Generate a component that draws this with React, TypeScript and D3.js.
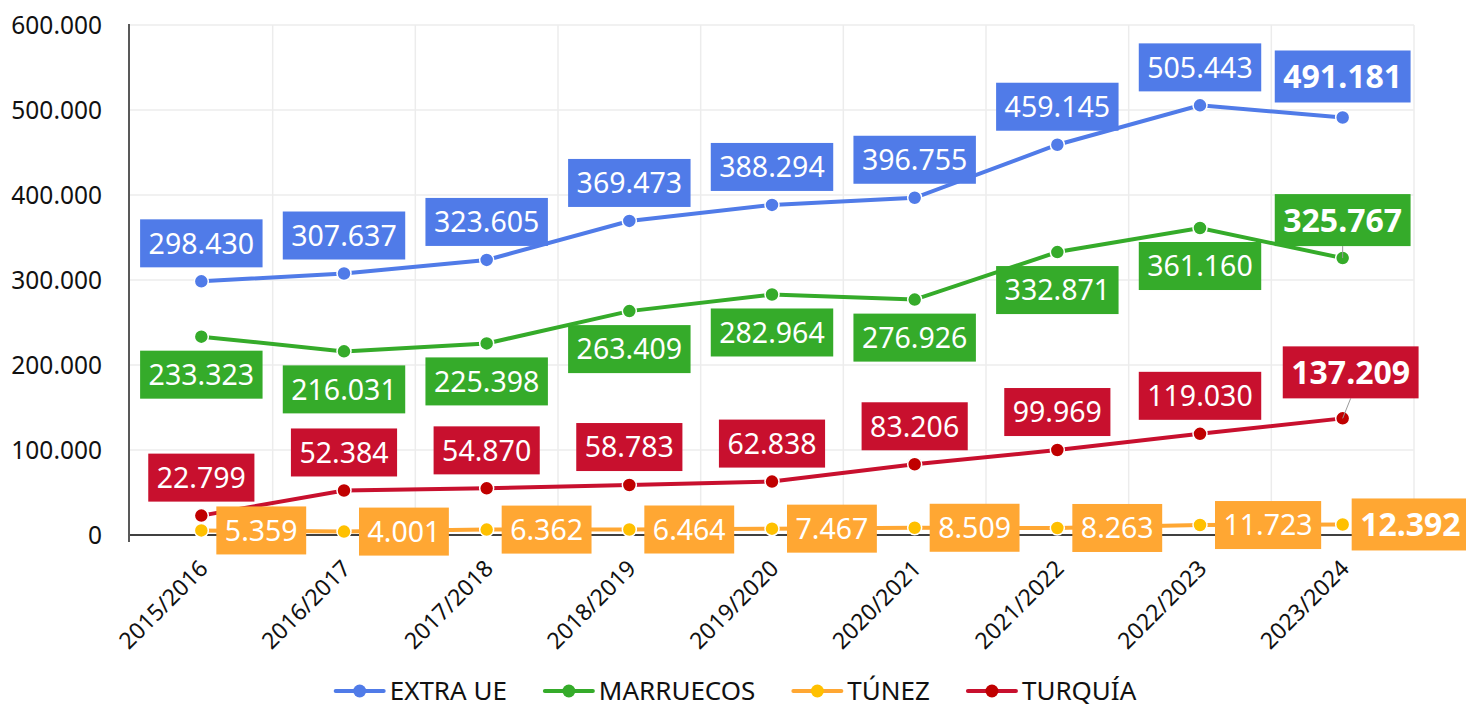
import React, { useRef, useEffect } from "react";
import * as d3 from "d3";

const seasons = [
  "2015/2016",
  "2016/2017",
  "2017/2018",
  "2018/2019",
  "2019/2020",
  "2020/2021",
  "2021/2022",
  "2022/2023",
  "2023/2024",
];

const extraUe = [298430, 307637, 323605, 369473, 388294, 396755, 459145, 505443, 491181];
const marruecos = [233323, 216031, 225398, 263409, 282964, 276926, 332871, 361160, 325767];
const tunez = [5359, 4001, 6362, 6464, 7467, 8509, 8263, 11723, 12392];
const turquia = [22799, 52384, 54870, 58783, 62838, 83206, 99969, 119030, 137209];

const yTicks = [0, 100000, 200000, 300000, 400000, 500000, 600000];

interface ISeries {
  name: string;
  values: number[];
  line: string;
  marker: string;
  box: string;
  place: "above" | "below" | "right";
  // offsets for the last (bold) label
  lastDx: number;
  lastDy: number;
  leader: boolean;
}

const series: ISeries[] = [
  { name: "EXTRA UE", values: extraUe, line: "#507BE8", marker: "#507BE8", box: "#507BE8", place: "above", lastDx: 0, lastDy: -41, leader: false },
  { name: "MARRUECOS", values: marruecos, line: "#35AB2A", marker: "#35AB2A", box: "#35AB2A", place: "below", lastDx: 0, lastDy: -38, leader: true },
  { name: "TÚNEZ", values: tunez, line: "#FFA733", marker: "#FFC000", box: "#FFA733", place: "right", lastDx: 9, lastDy: 0, leader: false },
  { name: "TURQUÍA", values: turquia, line: "#C8102E", marker: "#C00000", box: "#C8102E", place: "above", lastDx: 8, lastDy: -46, leader: true },
];

const FONT = "'Noto Sans', 'Open Sans', sans-serif";

const App: React.FC = () => {
  const ref = useRef<SVGSVGElement>(null);
  const width = 1466;
  const height = 708;
  const margin = { top: 25, right: 52, bottom: 173, left: 130 };

  useEffect(() => {
    document.body.style.margin = "0";
    const svg = d3.select(ref.current);
    svg.selectAll("*").remove();

    const left = margin.left;
    const right = width - margin.right;
    const top = margin.top;
    const bottom = height - margin.bottom;

    const fmt = d3.formatLocale({
      decimal: ",",
      thousands: ".",
      grouping: [3],
      currency: ["", "€"],
    }).format(",d");

    const xScale = d3.scaleBand<string>().domain(seasons).range([left, right]);
    const bw = xScale.bandwidth();
    const cx = (s: string) => (xScale(s) || 0) + bw / 2;
    const yScale = d3.scaleLinear().domain([0, 600000]).range([bottom, top]);

    // grid
    const grid = svg.append("g");
    yTicks.forEach((t) => {
      if (t === 0) return;
      grid.append("line")
        .attr("x1", left).attr("x2", right)
        .attr("y1", yScale(t)).attr("y2", yScale(t))
        .attr("stroke", "#ececec").attr("stroke-width", 1.5);
    });
    seasons.forEach((s) => {
      const x = (xScale(s) || 0) + bw;
      grid.append("line")
        .attr("x1", x).attr("x2", x)
        .attr("y1", top).attr("y2", bottom)
        .attr("stroke", "#ececec").attr("stroke-width", 1.5);
    });

    // axes
    svg.append("line")
      .attr("x1", left).attr("x2", right)
      .attr("y1", bottom).attr("y2", bottom)
      .attr("stroke", "#000").attr("stroke-width", 1.5);
    svg.append("line")
      .attr("x1", left - 1).attr("x2", left - 1)
      .attr("y1", top - 1).attr("y2", bottom + 7)
      .attr("stroke", "#222").attr("stroke-width", 1.5);

    svg.append("g")
      .selectAll("text")
      .data(yTicks)
      .join("text")
      .attr("x", 102)
      .attr("y", (d) => yScale(d))
      .attr("dy", "0.36em")
      .attr("text-anchor", "end")
      .attr("font-family", FONT)
      .attr("font-size", 24.5)
      .attr("fill", "#111")
      .text((d) => fmt(d));

    svg.append("g")
      .selectAll("text")
      .data(seasons)
      .join("text")
      .attr("transform", (d) => `translate(${cx(d) + 8}, 570) rotate(-45)`)
      .attr("text-anchor", "end")
      .attr("font-family", FONT)
      .attr("font-size", 23)
      .attr("fill", "#111")
      .text((d) => d);

    // lines + markers
    const lineGen = d3.line<number>()
      .x((_, i) => cx(seasons[i]))
      .y((d) => yScale(d));

    series.forEach((s) => {
      svg.append("path")
        .attr("d", lineGen(s.values) || "")
        .attr("fill", "none")
        .attr("stroke", s.line)
        .attr("stroke-width", 4);
    });
    series.forEach((s) => {
      svg.append("g")
        .selectAll("circle")
        .data(s.values)
        .join("circle")
        .attr("cx", (_, i) => cx(seasons[i]))
        .attr("cy", (d) => yScale(d))
        .attr("r", 7)
        .attr("fill", s.marker)
        .attr("stroke", "#fff")
        .attr("stroke-width", 1.5);
    });

    // data labels
    const labels = svg.append("g");
    series.forEach((s) => {
      s.values.forEach((v, i) => {
        const px = cx(seasons[i]);
        const py = yScale(v);
        const last = i === s.values.length - 1;
        const fs = last ? 32 : 28.5;
        const bh = last ? 52 : 48;
        const g = labels.append("g");
        const rect = g.append("rect");
        const txt = g.append("text")
          .attr("font-family", FONT)
          .attr("font-size", fs)
          .attr("font-weight", last ? 700 : 400)
          .attr("fill", "#fff")
          .attr("text-anchor", "middle")
          .attr("dy", "0.36em")
          .text(fmt(v));
        const tw = (txt.node() as SVGTextElement).getComputedTextLength();
        const bwid = tw + 17;
        let bx: number;
        let by: number;
        if (s.place === "right") {
          bx = px + (last ? s.lastDx : 15) + bwid / 2;
          by = py;
        } else if (last) {
          bx = px + s.lastDx;
          by = py + s.lastDy;
        } else {
          bx = px;
          by = s.place === "above" ? py - 38 : py + 38;
        }
        if (last && s.leader) {
          labels.insert("line", ":first-child")
            .attr("x1", bx).attr("y1", by + bh / 2)
            .attr("x2", px).attr("y2", py)
            .attr("stroke", "#999").attr("stroke-width", 1);
        }
        rect
          .attr("x", bx - bwid / 2)
          .attr("y", by - bh / 2)
          .attr("width", bwid)
          .attr("height", bh)
          .attr("fill", s.box);
        txt.attr("x", bx).attr("y", by);
      });
    });

    // legend
    const legend = svg.append("g");
    const items = series.map((s) => {
      const g = legend.append("g");
      g.append("line")
        .attr("x1", 0).attr("x2", 48)
        .attr("y1", 691).attr("y2", 691)
        .attr("stroke", s.line).attr("stroke-width", 4)
        .attr("stroke-linecap", "round");
      g.append("circle")
        .attr("cx", 24).attr("cy", 691).attr("r", 6.5)
        .attr("fill", s.marker);
      const t = g.append("text")
        .attr("x", 54).attr("y", 699.5)
        .attr("font-family", FONT)
        .attr("font-size", 26)
        .attr("fill", "#111")
        .text(s.name);
      const w = 54 + (t.node() as SVGTextElement).getComputedTextLength();
      return { g, w };
    });
    const gap = 38;
    const total = d3.sum(items, (d) => d.w) + gap * (items.length - 1);
    let xPos = 736 - total / 2;
    items.forEach((it) => {
      it.g.attr("transform", `translate(${xPos},0)`);
      xPos += it.w + gap;
    });
  });

  return (
    <svg
      ref={ref}
      width={width}
      height={height}
      style={{ display: "block", background: "#fff" }}
    ></svg>
  );
};

export default App;
